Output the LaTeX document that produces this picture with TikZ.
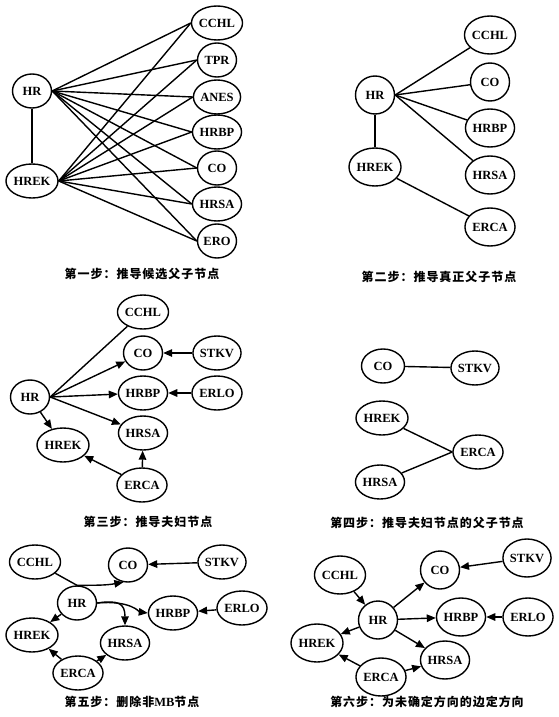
\documentclass[tikz,border=0pt]{standalone}
\usepackage{fontspec}
\setmainfont{Liberation Serif}
\newfontfamily\cjk[LetterSpace=8]{Noto Sans CJK SC}
\usetikzlibrary{shapes.geometric,arrows.meta}
\tikzset{
  nd/.style={draw, ellipse, line width=1.4pt, inner sep=0pt, minimum width=39pt, minimum height=34pt, font=\bfseries\fontsize{12.5}{13}\selectfont},
  ndb/.style={nd, minimum height=38pt},
  ndw/.style={nd, minimum width=43pt, minimum height=34pt},
  ln/.style={line width=1.4pt},
  ar/.style={line width=1.4pt, -{Triangle[length=9pt,width=7.5pt]}},
  captxt/.style={font=\cjk\bfseries\fontsize{12}{12}\selectfont, inner sep=0pt}
}
\begin{document}
\begin{tikzpicture}[x=1pt,y=-1pt]
\useasboundingbox (0,0) rectangle (558,717);
% ---------- Panel 1
\begin{scope}
\node[nd] (a1) at (32,91) {HR};
\node[nd] (b1) at (32,181) {HREK};
\node[nd] (c1) at (217,23) {CCHL};
\node[nd] (c2) at (217,60) {TPR};
\node[nd] (c3) at (217,97) {ANES};
\node[nd] (c4) at (217,132) {HRBP};
\node[nd] (c5) at (217,168) {CO};
\node[nd] (c6) at (217,204) {HRSA};
\node[nd] (c7) at (217,241) {ERO};
\draw[ln] (a1) -- (b1);
\foreach \i in {1,...,7}{
  \draw[ln] (a1.east) -- (c\i.west);
  \draw[ln] (b1.east) -- (c\i.west);
}
\node[captxt] (t1) at (142,274) {第一步：推导候选父子节点};
\end{scope}
% ---------- Panel 2
\begin{scope}
\node[ndb] (p2hr) at (375,95) {HR};
\node[ndb] (p2hrek) at (375,167) {HREK};
\node[ndb] (p2cchl) at (490,35) {CCHL};
\node[ndb] (p2co) at (490,82) {CO};
\node[ndb] (p2hrbp) at (490,128) {HRBP};
\node[ndb] (p2hrsa) at (490,175) {HRSA};
\node[ndb] (p2erca) at (490,227) {ERCA};
\draw[ln] (p2hr) -- (p2hrek);
\draw[ln] (p2hr.east) -- (p2cchl);
\draw[ln] (p2hr.east) -- (p2co);
\draw[ln] (p2hr.east) -- (p2hrbp);
\draw[ln] (p2hr.east) -- (p2hrsa);
\draw[ln] (p2hrek) -- (p2erca);
\node[captxt] (t2) at (439,277) {第二步：推导真正父子节点};
\end{scope}
% ---------- Panel 3
\begin{scope}
\node[nd] (p3cchl) at (143,312) {CCHL};
\node[nd] (p3co) at (143,353) {CO};
\node[nd] (p3hrbp) at (143,393) {HRBP};
\node[nd] (p3hrsa) at (143,433) {HRSA};
\node[nd] (p3stkv) at (217,353) {STKV};
\node[nd] (p3erlo) at (217,393) {ERLO};
\node[nd] (p3hr) at (30,397) {HR};
\node[nd] (p3hrek) at (63,445) {HREK};
\node[nd] (p3erca) at (142,485) {ERCA};
\draw[ln] (p3hr.east) -- (p3cchl);
\draw[ar] (p3hr.east) -- (p3co);
\draw[ar] (p3hr.east) -- (p3hrbp);
\draw[ar] (p3hr.east) -- (p3hrsa);
\draw[ar] (p3hr) -- (p3hrek);
\draw[ar] (p3stkv) -- (p3co);
\draw[ar] (p3erlo) -- (p3hrbp);
\draw[ar] (p3erca) -- (p3hrsa);
\draw[ar] (p3erca) -- (p3hrek);
\node[captxt] (t3) at (148,522) {第三步：推导夫妇节点};
\end{scope}
% ---------- Panel 4
\begin{scope}
\node[ndw] (p4co) at (383,366) {CO};
\node[ndw] (p4stkv) at (475,368) {STKV};
\node[ndw] (p4hrek) at (382,418) {HREK};
\node[ndw] (p4erca) at (478,452) {ERCA};
\node[ndw] (p4hrsa) at (380,482) {HRSA};
\draw[ln] (p4co) -- (p4stkv);
\draw[ln] (p4hrek) -- (p4erca.west);
\draw[ln] (p4hrsa) -- (p4erca.west);
\node[captxt] (t4) at (427,523) {第四步：推导夫妇节点的父子节点};
\end{scope}
% ---------- Panel 5
\begin{scope}
\node[nd] (p5cchl) at (35,562) {CCHL};
\node[nd] (p5co) at (128,565) {CO};
\node[nd] (p5stkv) at (222,562) {STKV};
\node[nd] (p5hr) at (77,603) {HR};
\node[nd] (p5hrbp) at (173,613) {HRBP};
\node[nd] (p5erlo) at (242,608) {ERLO};
\node[nd] (p5hrek) at (32,635) {HREK};
\node[nd] (p5hrsa) at (125,643) {HRSA};
\node[nd] (p5erca) at (78,673) {ERCA};
\draw[ln] (p5cchl) -- (p5hr.north);
\draw[ar] (p5hr.north) to[out=0,in=190] (p5co.255);
\draw[ar] (p5hr.east) .. controls (130,600) and (140,612) .. (p5hrbp.west);
\draw[ar] (p5hr.east) .. controls (118,600) and (125,603) .. (p5hrsa.north);
\draw[ar] (p5hr) -- (p5hrek);
\draw[ar] (p5stkv) -- (p5co);
\draw[ar] (p5erlo) -- (p5hrbp);
\draw[ar] (p5erca) -- (p5hrek);
\draw[ar] (p5erca) -- (p5hrsa);
\node[captxt] (t5) at (132,702) {第五步：删除非{\rmfamily\bfseries\fontsize{12.5}{12}\selectfont MB}节点};
\end{scope}
% ---------- Panel 6
\begin{scope}
\node[ndb] (p6cchl) at (340,575) {CCHL};
\node[ndb] (p6co) at (440,570) {CO};
\node[ndb] (p6stkv) at (527,558) {STKV};
\node[ndb] (p6hr) at (378,620) {HR};
\node[ndb] (p6hrbp) at (461,617) {HRBP};
\node[ndb] (p6erlo) at (528,617) {ERLO};
\node[ndb] (p6hrek) at (317,643) {HREK};
\node[ndb] (p6hrsa) at (445,660) {HRSA};
\node[ndb] (p6erca) at (381,677) {ERCA};
\draw[ar] (p6cchl) -- (p6hr);
\draw[ar] (p6hr) -- (p6co);
\draw[ar] (p6hr) -- (p6hrek);
\draw[ar] (p6hr) -- (p6hrbp);
\draw[ar] (p6hr) -- (p6hrsa);
\draw[ar] (p6stkv) -- (p6co);
\draw[ar] (p6erlo) -- (p6hrbp);
\draw[ar] (p6erca) -- (p6hrek);
\draw[ar] (p6erca) -- (p6hrsa);
\node[captxt] (t6) at (427,702) {第六步：为未确定方向的边定方向};
\end{scope}
\end{tikzpicture}
\end{document}
